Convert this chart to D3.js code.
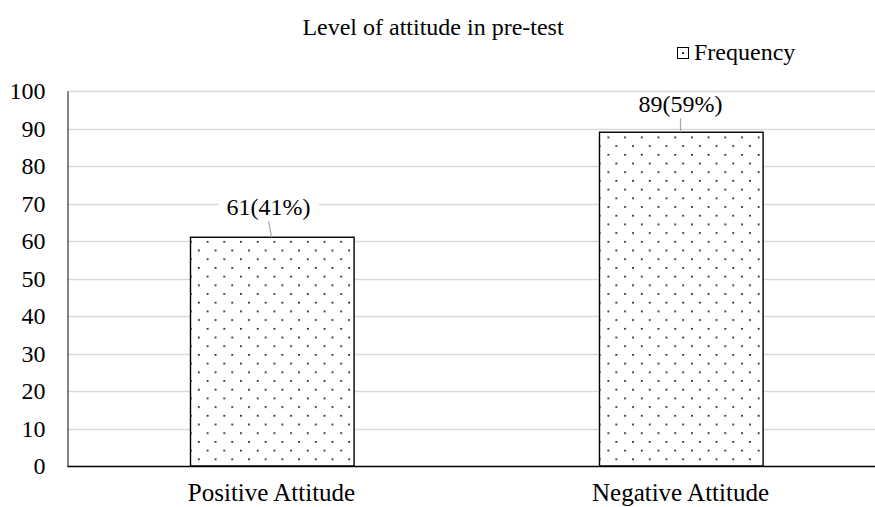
<!DOCTYPE html>
<html>
<head>
<meta charset="utf-8">
<script src="https://cdn.jsdelivr.net/npm/d3@7"></script>
<style>
  body { margin: 0; background: #fff; }
  svg text { font-family: "Liberation Serif", "DejaVu Serif", serif; }
</style>
</head>
<body>
<svg id="chart" width="875" height="507"></svg>
<script>
// Attitude level counts in pre-test
const categories = ["Positive Attitude", "Negative Attitude"];
const frequency = [61, 89];
const percentLabels = ["61(41%)", "89(59%)"];
const yTicks = [0, 10, 20, 30, 40, 50, 60, 70, 80, 90, 100];

const SERIF = "Liberation Serif, DejaVu Serif, serif";
const svg = d3.select("#chart");
const plotLeft = 67, plotRight = 885, baseY = 466;

const x = d3.scaleBand().domain(categories)
  .range([plotLeft, plotRight]).paddingInner(0.6).paddingOuter(0.3);
const y = d3.scaleLinear().domain([0, 100]).range([baseY, baseY - 375]);

// dotted fill pattern
const defs = svg.append("defs");
const PW = 16.7, PH = 17.4;
const pat = defs.append("pattern").attr("id", "dots")
  .attr("patternUnits", "userSpaceOnUse").attr("width", PW).attr("height", PH)
  .attr("x", 190).attr("y", 441);
pat.append("rect").attr("width", PW).attr("height", PH).attr("fill", "#fff");
pat.append("rect").attr("x", 8).attr("y", 0).attr("width", 1.7).attr("height", 1.7).attr("fill", "#111");
pat.append("rect").attr("x", 0).attr("y", 8.7).attr("width", 1.7).attr("height", 1.7).attr("fill", "#111");

// title
svg.append("text").attr("x", 433).attr("y", 35).attr("text-anchor", "middle")
  .attr("font-family", SERIF)
  .style("font-size", "24px").text("Level of attitude in pre-test");

// legend
svg.append("rect").attr("x", 677.5).attr("y", 47.5).attr("width", 11).attr("height", 11)
  .attr("fill", "#fff").attr("stroke", "#000").attr("stroke-width", 1);
svg.append("rect").attr("x", 682.2).attr("y", 52.2).attr("width", 1.8).attr("height", 1.8).attr("fill", "#000");
svg.append("text").attr("x", 694).attr("y", 59.5)
  .attr("font-family", SERIF)
  .style("font-size", "24px").text("Frequency");

// gridlines
svg.append("g").selectAll("line").data(yTicks.filter(d => d > 0)).join("line")
  .attr("x1", plotLeft).attr("x2", plotRight)
  .attr("y1", d => Math.round(y(d)) + 0.5).attr("y2", d => Math.round(y(d)) + 0.5)
  .attr("stroke", "#d9d9d9").attr("stroke-width", 1.5);

// y axis
const yAxis = d3.axisLeft(y).tickValues(yTicks).tickSize(0).tickPadding(22);
const gy = svg.append("g").attr("transform", `translate(${plotLeft + 0.5},0)`).call(yAxis);
gy.attr("font-family", SERIF).attr("font-size", null);
gy.select(".domain").attr("stroke", "#333").attr("stroke-width", 1.2);
gy.selectAll("text").style("font-size", "24px").attr("fill", "#000");

// bars
svg.append("g").selectAll("rect").data(frequency).join("rect")
  .attr("x", (d, i) => Math.round(x(categories[i])) + 0.5)
  .attr("y", d => y(d))
  .attr("width", x.bandwidth())
  .attr("height", d => y(0) - y(d))
  .attr("fill", "url(#dots)").attr("stroke", "#000").attr("stroke-width", 1.4);

// x axis
const xAxis = d3.axisBottom(x).tickSize(0).tickPadding(17);
const gx = svg.append("g").attr("transform", `translate(0,${baseY})`).call(xAxis);
gx.attr("font-family", SERIF).attr("font-size", null);
gx.select(".domain").attr("stroke", "#000").attr("stroke-width", 1.4);
gx.selectAll("text").style("font-size", "25px").attr("fill", "#000");

// value labels with leader lines
const labelOffset = [31, 29];
const labelShift = [-3, 0];
frequency.forEach((v, i) => {
  const cx = x(categories[i]) + x.bandwidth() / 2;
  const ly = y(v) - labelOffset[i];
  const lx = cx + labelShift[i];
  svg.append("line").attr("x1", lx).attr("y1", ly + 15).attr("x2", cx).attr("y2", y(v))
    .attr("stroke", "#a6a6a6").attr("stroke-width", 1.2);
  const t = svg.append("text").attr("x", lx).attr("y", ly).attr("text-anchor", "middle")
    .attr("dy", "0.35em").attr("font-family", SERIF)
    .style("font-size", "24px").text(percentLabels[i]);
  const bb = t.node().getBBox();
  svg.insert("rect", () => t.node()).attr("x", bb.x - 8).attr("y", bb.y + 3)
    .attr("width", bb.width + 16).attr("height", bb.height - 8).attr("fill", "#fff");
});
</script>
</body>
</html>
